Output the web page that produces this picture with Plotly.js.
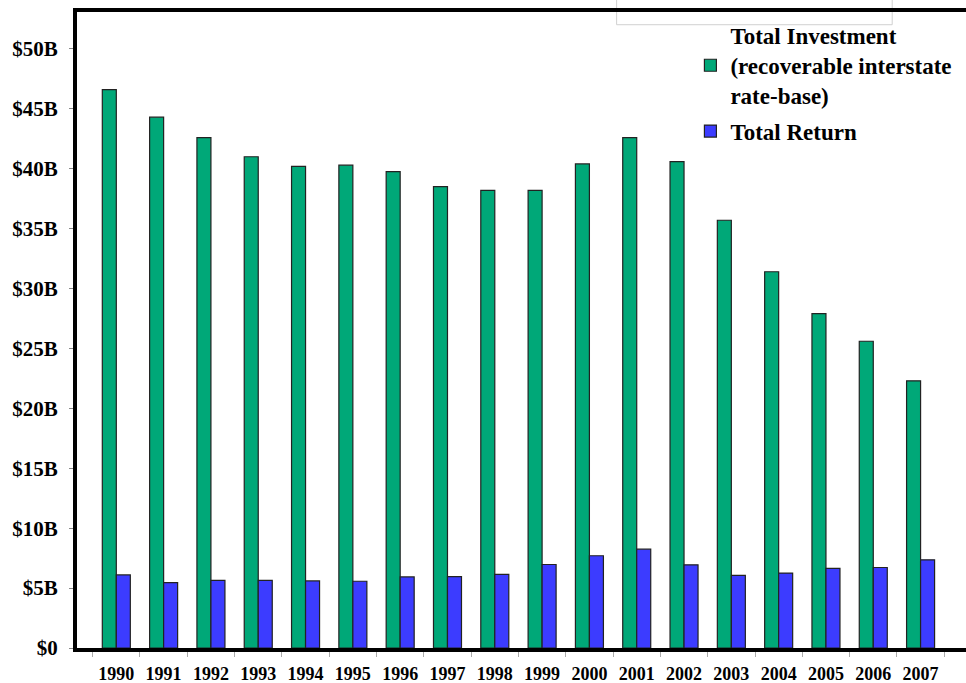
<!DOCTYPE html>
<html>
<head>
<meta charset="utf-8">
<script src="https://cdn.plot.ly/plotly-3.0.1.min.js"></script>
<style>html,body{margin:0;padding:0;background:#fff;}#chart{width:966px;height:683px;}</style>
</head>
<body>
<div id="chart"></div>
<script>
const years = ["1990","1991","1992","1993","1994","1995","1996","1997","1998","1999","2000","2001","2002","2003","2004","2005","2006","2007"];
const totalInvestment = [46.6,44.3,42.6,41.0,40.2,40.3,39.75,38.5,38.2,38.2,40.4,42.6,40.6,35.7,31.4,27.9,25.6,22.3];
const totalReturn = [6.1,5.46,5.65,5.65,5.6,5.57,5.93,5.96,6.15,6.97,7.7,8.25,6.94,6.06,6.25,6.64,6.72,7.36];
const yTickVals = [0,5,10,15,20,25,30,35,40,45,50];
const yTickText = ["$0","$5B","$10B","$15B","$20B","$25B","$30B","$35B","$40B","$45B","$50B"];
const seriesNames = ["Total Investment<br>(recoverable interstate<br>rate-base)","Total Return"];

const serif = "'Liberation Serif', 'Times New Roman', serif";
const traces = [
  {type:"bar", x:years, y:totalInvestment, name:seriesNames[0], legendgroup:"inv",
   marker:{color:"#00A878", line:{color:"#222", width:1.2}}},
  {type:"bar", x:years, y:totalReturn, name:seriesNames[1], legendgroup:"ret",
   marker:{color:"#3C3CFF", line:{color:"#222", width:1.2}}}
];
const layout = {
  width:966, height:683,
  margin:{l:77, r:0, t:11.5, b:34.5},
  paper_bgcolor:"#fff", plot_bgcolor:"#fff",
  barmode:"group", bargap:0.408, bargroupgap:0,
  font:{family:serif, color:"#000"},
  showlegend:true,
  legend:{x:0.690, y:0.997, xanchor:"left", yanchor:"top",
          font:{family:serif, size:23, color:"#000", weight:"bold"},
          bgcolor:"rgba(0,0,0,0)", tracegroupgap:3},
  xaxis:{type:"category", range:[-0.831,17.96], showline:true, linecolor:"#000", linewidth:4,
         mirror:true, ticks:"outside", tickson:"boundaries", ticklen:5, tickcolor:"#aaa", tickwidth:1,
         showgrid:false, zeroline:false, ticklabelstandoff:6,
         tickfont:{family:serif, size:18, color:"#000", weight:"bold"}},
  yaxis:{range:[0,53.08], showline:true, linecolor:"#000", linewidth:4,
         ticks:"outside", ticklen:4, tickcolor:"#888", tickwidth:1,
         tickvals:yTickVals, ticktext:yTickText, showgrid:false, zeroline:false,
         ticklabelstandoff:7,
         tickfont:{family:serif, size:21, color:"#000", weight:"bold"}},
  shapes:[{type:"rect", xref:"paper", yref:"paper", x0:0.607, x1:0.917, y0:0.980, y1:1.03,
           line:{color:"#d0d0d0", width:1}, fillcolor:"rgba(0,0,0,0)", layer:"below"}]
};
Plotly.newPlot("chart", traces, layout, {displayModeBar:false, staticPlot:true});
</script>
</body>
</html>
